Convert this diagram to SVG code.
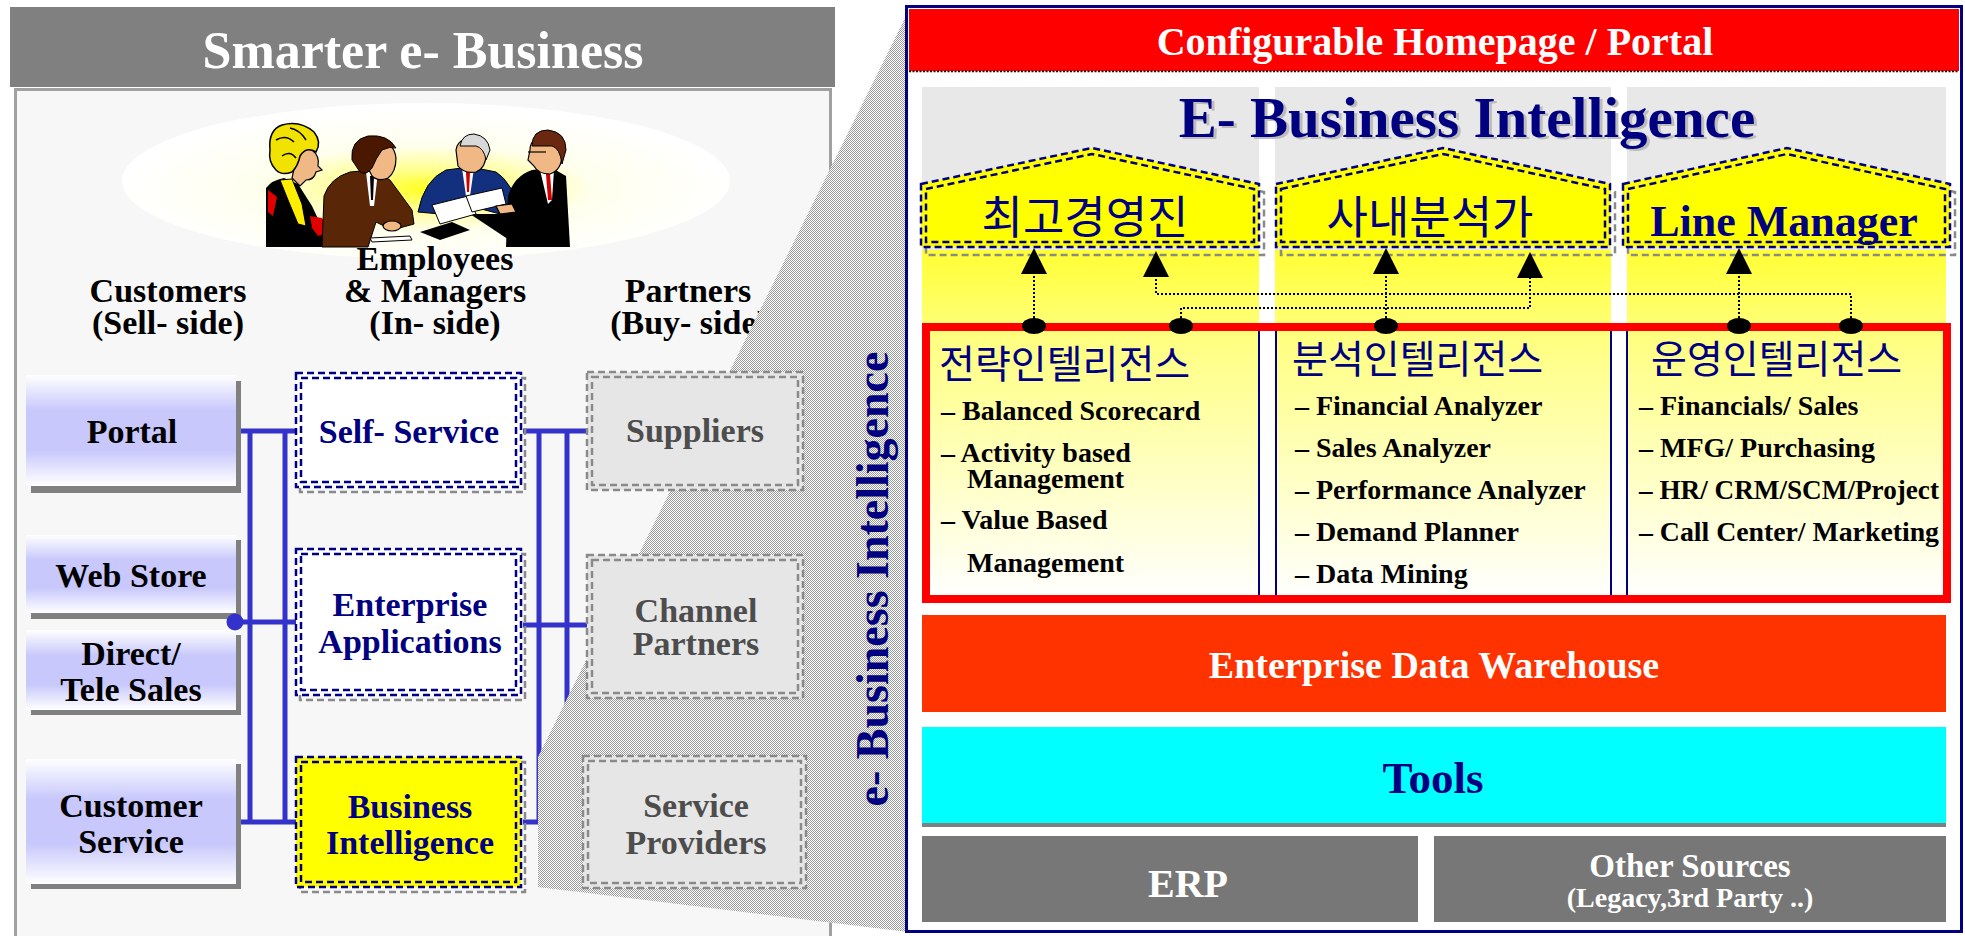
<svg xmlns="http://www.w3.org/2000/svg" width="1965" height="936" viewBox="0 0 1965 936">
<defs>
  <style>
    .sf { font-family: "Liberation Serif", "Times New Roman", serif; font-weight: bold; }
    .kr { font-family: "Noto Sans CJK KR", "Noto Sans CJK SC", sans-serif; fill: #000080; }
    .c { text-anchor: middle; }
    .hdr { font-size: 34px; fill: #000; }
    .lbl { font-size: 34px; }
    .navy { fill: #000080; }
    .grey { fill: #4d4d4d; }
    .white { fill: #fff; }
    .item { font-size: 28px; fill: #000; }
    .link { stroke: #3333cc; stroke-width: 5; fill: none; }
    .nd { fill: none; stroke: #000080; stroke-width: 2.5; stroke-dasharray: 7 4; }
    .sd { fill: none; stroke: #8a8a8a; stroke-width: 2.5; stroke-dasharray: 7 4; }
    .pd { fill: none; stroke: #8a8a8a; stroke-width: 2.5; stroke-dasharray: 7 4; }
    .dot { fill: none; stroke: #000; stroke-width: 2; stroke-dasharray: 2 2; }
    .sep { stroke: #000080; stroke-width: 2; }
    .skin { fill: #f0b884; stroke: #000; stroke-width: 1.2; }
  </style>
  <linearGradient id="lav" x1="0" y1="0" x2="0" y2="1">
    <stop offset="0" stop-color="#ffffff"/>
    <stop offset="0.32" stop-color="#c8c8fc"/>
    <stop offset="0.68" stop-color="#c8c8fc"/>
    <stop offset="1" stop-color="#ffffff"/>
  </linearGradient>
  <radialGradient id="glow" cx="0.5" cy="0.55" r="0.5">
    <stop offset="0" stop-color="#ffff20"/>
    <stop offset="0.25" stop-color="#ffff90"/>
    <stop offset="0.55" stop-color="#ffffee"/>
    <stop offset="1" stop-color="#ffffff"/>
  </radialGradient>
  <linearGradient id="colFill" gradientUnits="userSpaceOnUse" x1="0" y1="250" x2="0" y2="598">
    <stop offset="0" stop-color="#ffff33"/>
    <stop offset="0.25" stop-color="#ffff80"/>
    <stop offset="1" stop-color="#ffffff"/>
  </linearGradient>
  <pattern id="checker" width="2" height="2" patternUnits="userSpaceOnUse">
    <rect width="2" height="2" fill="#ffffff"/>
    <rect width="1" height="1" fill="#9a9a9a"/>
    <rect x="1" y="1" width="1" height="1" fill="#9a9a9a"/>
  </pattern>
</defs>

<!-- ===== Left panel: Smarter e-Business ===== -->
<rect x="15.5" y="89.5" width="815" height="860" fill="#f7f7f7" stroke="#a0a0a0" stroke-width="3"/>
<rect x="10" y="7" width="825" height="80" fill="#808080"/>
<text class="sf c white" x="423" y="68" font-size="52">Smarter e- Business</text>

<ellipse cx="426" cy="181" rx="304" ry="78" fill="url(#glow)"/>

<!-- meeting clipart -->
<g id="meeting">
  <!-- woman -->
  <path d="M266,247 V188 Q272,180 284,178 L298,184 L312,206 L326,236 L332,247 Z" fill="#000"/>
  <path d="M280,180 L292,179 L302,204 L306,226 L298,224 L288,200 Z" fill="#ffee00" stroke="#000"/>
  <path d="M268,190 L277,197 L273,216 L268,212 Z" fill="#e00000"/>
  <path d="M310,216 L322,218 L330,232 L318,236 L312,228 Z" fill="#e00000"/>
  <path d="M296,160 Q300,146 312,150 Q320,156 318,166 L322,170 L316,172 Q314,180 306,180 L300,186 L292,178 Z" class="skin"/>
  <path d="M270,150 Q268,130 282,125 Q300,120 314,132 Q322,142 316,152 Q306,146 300,156 Q298,166 292,172 Q282,176 276,170 Q268,162 270,150 Z" fill="#f2e200" stroke="#000" stroke-width="1.5"/>
  <path d="M276,140 Q286,134 294,142 M282,156 Q290,150 296,158 M290,128 Q300,130 306,140" fill="none" stroke="#000" stroke-width="1.5"/>
  <!-- man in brown suit -->
  <path d="M322,247 L324,196 Q330,178 350,172 L372,170 L390,180 L412,210 L414,224 L392,230 L376,222 L368,247 Z" fill="#5a2608" stroke="#000"/>
  <path d="M366,172 L378,172 L374,206 L370,206 Z" fill="#fff"/>
  <path d="M370,176 L374,176 L373,200 L371,200 Z" fill="#000"/>
  <path d="M364,160 Q362,142 378,140 Q394,142 396,158 Q396,172 388,178 Q378,182 372,176 Z" class="skin"/>
  <path d="M352,160 Q350,140 368,136 Q388,134 396,148 Q390,146 382,150 Q376,158 372,168 Q366,176 360,172 Z" fill="#4a1800" stroke="#000"/>
  <ellipse cx="392" cy="226" rx="9" ry="5" class="skin"/>
  <!-- man in blue suit -->
  <path d="M418,212 Q424,180 446,170 L462,168 L476,168 L496,172 Q512,182 520,212 L500,214 L470,206 L440,214 Z" fill="#12307e" stroke="#000"/>
  <path d="M462,168 L474,168 L470,196 L466,196 Z" fill="#fff"/>
  <path d="M466,172 L470,172 L469,192 L467,192 Z" fill="#d00000"/>
  <path d="M456,150 Q458,138 472,138 Q486,140 486,154 Q486,168 476,172 Q464,174 458,166 Z" class="skin"/>
  <path d="M460,146 Q462,134 474,134 Q488,136 490,150 L486,160 Q484,148 476,146 Q468,146 460,146 Z" fill="#d8d8d8" stroke="#000"/>
  <!-- man in black suit -->
  <path d="M506,247 L508,196 Q514,176 532,170 L552,168 L566,176 L570,247 Z" fill="#000"/>
  <path d="M540,170 L554,170 L552,200 L548,204 Z" fill="#fff"/>
  <path d="M546,174 L550,174 L552,200 L548,200 Z" fill="#d00000"/>
  <path d="M530,150 Q530,138 544,136 Q560,138 562,154 Q562,170 550,174 Q538,174 534,166 L528,160 Z" class="skin"/>
  <path d="M532,146 Q532,130 548,130 Q566,132 566,150 L562,164 Q560,148 552,146 Q540,146 532,146 Z" fill="#6a2810" stroke="#000"/>
  <path d="M528,152 H546" stroke="#000" stroke-width="1.2"/>
  <!-- table, papers, arms -->
  <path d="M470,214 L508,214 L566,247 L520,247 Z" fill="#000"/>
  <path d="M420,232 L452,222 L470,230 L440,240 Z" fill="#000"/>
  <path d="M432,205 L468,196 L476,214 L440,224 Z" fill="#fff" stroke="#000"/>
  <path d="M466,196 L502,188 L506,204 L472,212 Z" fill="#fff" stroke="#000"/>
  <path d="M496,206 L512,204 L516,212 L500,214 Z" class="skin"/>
  <path d="M370,238 L410,236 L412,240 L372,242 Z" fill="#fff" stroke="#000"/>
</g>

<!-- column headers -->
<text class="sf c hdr" x="168" y="302">Customers</text>
<text class="sf c hdr" x="168" y="334">(Sell- side)</text>
<text class="sf c hdr" x="435" y="270">Employees</text>
<text class="sf c hdr" x="435" y="302">&amp; Managers</text>
<text class="sf c hdr" x="435" y="334">(In- side)</text>
<text class="sf c hdr" x="688" y="302">Partners</text>
<text class="sf c hdr" x="689" y="334">(Buy- side)</text>

<!-- customer channels -->
<g id="portal">
  <rect x="31" y="381" width="210" height="112" fill="#808080"/>
  <rect x="26" y="375" width="210" height="111" fill="url(#lav)"/>
  <text class="sf c lbl" x="132" y="443">Portal</text>
</g>
<g id="web-store">
  <rect x="31" y="540" width="210" height="79" fill="#808080"/>
  <rect x="26" y="535" width="210" height="78" fill="url(#lav)"/>
  <text class="sf c lbl" x="131" y="587">Web Store</text>
</g>
<g id="direct-sales">
  <rect x="31" y="635" width="210" height="80" fill="#808080"/>
  <rect x="26" y="630" width="210" height="80" fill="url(#lav)"/>
  <text class="sf c lbl" x="131" y="665">Direct/</text>
  <text class="sf c lbl" x="131" y="701">Tele Sales</text>
</g>
<g id="customer-service">
  <rect x="31" y="764" width="210" height="125" fill="#808080"/>
  <rect x="26" y="759" width="210" height="125" fill="url(#lav)"/>
  <text class="sf c lbl" x="131" y="817">Customer</text>
  <text class="sf c lbl" x="131" y="853">Service</text>
</g>

<!-- blue bus connectors -->
<g id="connectors">
  <path class="link" d="M241,431 H297 M235,622 H297 M241,822 H297 M250,431 V822 M285,431 V822"/>
  <circle cx="235" cy="622" r="8.5" fill="#3333cc"/>
  <path class="link" d="M523,431 H590 M523,625 H590 M523,822 H539 M539,431 V822 M567,431 V822"/>
</g>

<!-- internal applications -->
<g id="self-service">
  <rect x="300" y="378" width="225" height="114" class="sd"/>
  <rect x="296" y="373" width="225" height="114" fill="#fff"/>
  <rect x="296" y="373" width="225" height="114" class="nd"/>
  <rect x="301" y="378" width="215" height="104" class="nd"/>
  <text class="sf c lbl navy" x="409" y="443">Self- Service</text>
</g>
<g id="enterprise-apps">
  <rect x="300" y="554" width="225" height="146" class="sd"/>
  <rect x="296" y="549" width="225" height="146" fill="#fff"/>
  <rect x="296" y="549" width="225" height="146" class="nd"/>
  <rect x="301" y="554" width="215" height="136" class="nd"/>
  <text class="sf c lbl navy" x="410" y="616">Enterprise</text>
  <text class="sf c lbl navy" x="410" y="653">Applications</text>
</g>
<g id="business-intelligence">
  <rect x="300" y="762" width="225" height="130" class="sd"/>
  <rect x="296" y="757" width="225" height="130" fill="#ffff00"/>
  <rect x="296" y="757" width="225" height="130" class="nd"/>
  <rect x="301" y="762" width="215" height="120" class="nd"/>
  <text class="sf c lbl navy" x="410" y="818">Business</text>
  <text class="sf c lbl navy" x="410" y="854">Intelligence</text>
</g>

<!-- zoom band from Business Intelligence to the detail panel -->
<polygon id="zoom-band" points="538,757 908,12 908,932 538,887" fill="url(#checker)"/>

<!-- partners -->
<g id="suppliers">
  <rect x="587" y="372" width="216" height="118" fill="#e6e6e6"/>
  <rect x="587" y="372" width="216" height="118" class="pd"/>
  <rect x="592" y="377" width="206" height="108" class="pd"/>
  <text class="sf c lbl grey" x="695" y="442">Suppliers</text>
</g>
<g id="channel-partners">
  <rect x="587" y="555" width="216" height="143" fill="#e6e6e6"/>
  <rect x="587" y="555" width="216" height="143" class="pd"/>
  <rect x="592" y="560" width="206" height="133" class="pd"/>
  <text class="sf c lbl grey" x="696" y="622">Channel</text>
  <text class="sf c lbl grey" x="696" y="655">Partners</text>
</g>
<g id="service-providers">
  <rect x="583" y="756" width="223" height="132" fill="#e6e6e6"/>
  <rect x="583" y="756" width="223" height="132" class="pd"/>
  <rect x="588" y="761" width="213" height="122" class="pd"/>
  <text class="sf c lbl grey" x="696" y="817">Service</text>
  <text class="sf c lbl grey" x="696" y="854">Providers</text>
</g>

<text class="sf c navy" font-size="46" transform="translate(888,579) rotate(-90)">e- Business Intelligence</text>

<!-- ===== Right panel: E-Business Intelligence ===== -->
<rect x="906.5" y="6.5" width="1055" height="925" fill="#fff" stroke="#000080" stroke-width="3"/>
<g id="portal-bar">
  <rect x="909" y="9" width="1050" height="62" fill="#ff0000"/>
  <path d="M909,71.5 H1959" stroke="#000" stroke-width="1.5" stroke-dasharray="2 1.5"/>
  <text class="sf c white" x="1435" y="55" font-size="40">Configurable Homepage / Portal</text>
</g>

<!-- three user columns -->
<rect x="922" y="87" width="337" height="165" fill="#e8e8e8"/>
<rect x="1275" y="87" width="336" height="165" fill="#e8e8e8"/>
<rect x="1627" y="87" width="319" height="165" fill="#e8e8e8"/>
<rect x="922" y="250" width="337" height="348" fill="url(#colFill)"/>
<rect x="1275" y="250" width="336" height="348" fill="url(#colFill)"/>
<rect x="1627" y="250" width="319" height="348" fill="url(#colFill)"/>

<text class="sf c" x="1470" y="139" font-size="57" fill="#bdbdbd">E- Business Intelligence</text>
<text class="sf c navy" x="1467" y="137" font-size="57">E- Business Intelligence</text>

<g id="executives">
  <path d="M926,192 L1097,156 L1264,192 V255 H926 Z" class="sd"/>
  <path d="M921,184 L1092,148 L1259,184 V247 H921 Z" fill="#ffff00"/>
  <path d="M921,184 L1092,148 L1259,184 V247 H921 Z" class="nd"/>
  <path d="M926,189 L1092,154 L1254,189 V242 H926 Z" class="nd"/>
  <text class="kr c" x="1085" y="234" font-size="45">최고경영진</text>
</g>
<g id="analysts">
  <path d="M1281,192 L1448,156 L1615,192 V255 H1281 Z" class="sd"/>
  <path d="M1276,184 L1443,148 L1610,184 V247 H1276 Z" fill="#ffff00"/>
  <path d="M1276,184 L1443,148 L1610,184 V247 H1276 Z" class="nd"/>
  <path d="M1281,189 L1443,154 L1605,189 V242 H1281 Z" class="nd"/>
  <text class="kr c" x="1430" y="234" font-size="45">사내분석가</text>
</g>
<g id="line-manager">
  <path d="M1628,192 L1792,156 L1955,192 V255 H1628 Z" class="sd"/>
  <path d="M1623,184 L1787,148 L1950,184 V247 H1623 Z" fill="#ffff00"/>
  <path d="M1623,184 L1787,148 L1950,184 V247 H1623 Z" class="nd"/>
  <path d="M1628,189 L1787,154 L1945,189 V242 H1628 Z" class="nd"/>
  <text class="sf c navy" x="1784" y="236" font-size="44">Line Manager</text>
</g>

<!-- intelligence frame -->
<g id="intelligence">
  <rect x="926" y="327" width="1021" height="272" fill="none" stroke="#ff0000" stroke-width="8"/>
  <path class="sep" d="M1259,331 V595 M1276,331 V595 M1611,331 V595 M1627,331 V595"/>

  <text class="kr" x="939" y="378" font-size="39">전략인텔리전스</text>
  <text class="sf item" x="941" y="420">– Balanced Scorecard</text>
  <text class="sf item" x="941" y="462">– Activity based</text>
  <text class="sf item" x="967" y="488">Management</text>
  <text class="sf item" x="941" y="529">– Value Based</text>
  <text class="sf item" x="967" y="572">Management</text>

  <text class="kr" x="1292" y="373" font-size="39">분석인텔리전스</text>
  <text class="sf item" x="1295" y="415">– Financial Analyzer</text>
  <text class="sf item" x="1295" y="457">– Sales Analyzer</text>
  <text class="sf item" x="1295" y="499">– Performance Analyzer</text>
  <text class="sf item" x="1295" y="541">– Demand Planner</text>
  <text class="sf item" x="1295" y="583">– Data Mining</text>

  <text class="kr" x="1651" y="373" font-size="39">운영인텔리전스</text>
  <text class="sf item" x="1639" y="415">– Financials/ Sales</text>
  <text class="sf item" x="1639" y="457">– MFG/ Purchasing</text>
  <text class="sf item" x="1639" y="499" textLength="300" lengthAdjust="spacingAndGlyphs">– HR/ CRM/SCM/Project</text>
  <text class="sf item" x="1639" y="541" textLength="300" lengthAdjust="spacingAndGlyphs">– Call Center/ Marketing</text>
</g>

<!-- delivery links from intelligence areas to user groups -->
<g id="delivery-links">
  <path class="dot" d="M1034,322 V274 M1386,322 V274 M1739,322 V274"/>
  <path class="dot" d="M1851,322 V294 H1156 V277"/>
  <path class="dot" d="M1181,322 V308 H1530 V278"/>
  <polygon points="1034,248 1021,274 1047,274" fill="#000"/>
  <polygon points="1156,251 1143,277 1169,277" fill="#000"/>
  <polygon points="1386,248 1373,274 1399,274" fill="#000"/>
  <polygon points="1530,252 1517,278 1543,278" fill="#000"/>
  <polygon points="1739,248 1726,274 1752,274" fill="#000"/>
  <ellipse cx="1034" cy="326" rx="12" ry="8" fill="#000"/>
  <ellipse cx="1181" cy="326" rx="12" ry="8" fill="#000"/>
  <ellipse cx="1386" cy="326" rx="12" ry="8" fill="#000"/>
  <ellipse cx="1739" cy="326" rx="12" ry="8" fill="#000"/>
  <ellipse cx="1851" cy="326" rx="12" ry="8" fill="#000"/>
</g>

<g id="data-warehouse">
  <rect x="922" y="615" width="1024" height="97" fill="#ff3300"/>
  <text class="sf c white" x="1434" y="678" font-size="38">Enterprise Data Warehouse</text>
</g>
<g id="tools">
  <rect x="922" y="823" width="1024" height="4" fill="#808080"/>
  <rect x="922" y="727" width="1024" height="96" fill="#00ffff"/>
  <text class="sf c navy" x="1433" y="793" font-size="45">Tools</text>
</g>
<g id="erp">
  <rect x="922" y="836" width="496" height="86" fill="#777777"/>
  <text class="sf c white" x="1188" y="897" font-size="40">ERP</text>
</g>
<g id="other-sources">
  <rect x="1434" y="836" width="512" height="86" fill="#777777"/>
  <text class="sf c white" x="1690" y="877" font-size="33">Other Sources</text>
  <text class="sf c white" x="1690" y="907" font-size="28">(Legacy,3rd Party ..)</text>
</g>
</svg>
